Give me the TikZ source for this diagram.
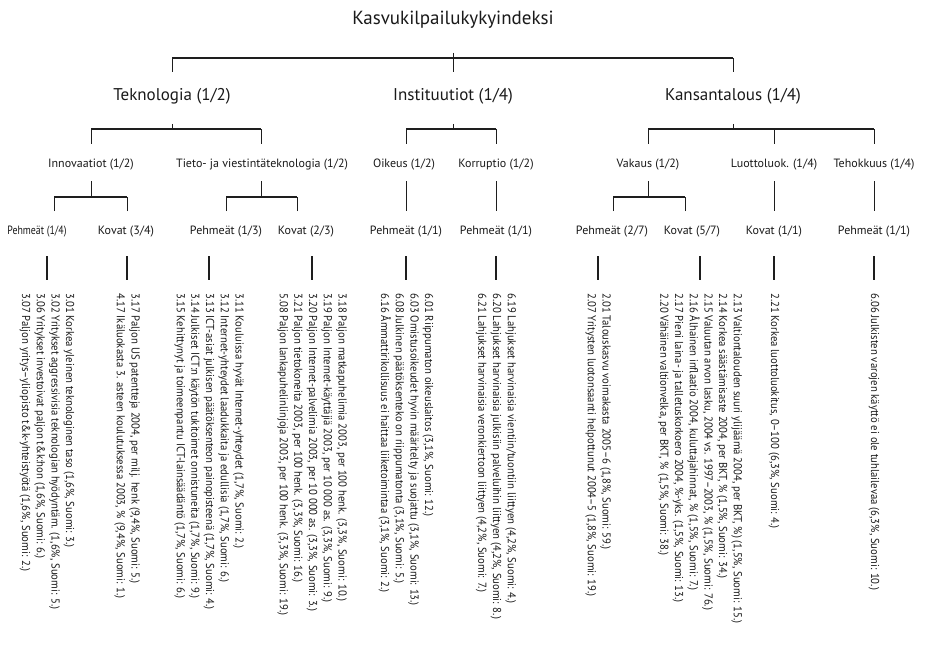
\documentclass[tikz,border=0pt]{standalone}
\usepackage{fontspec}
\setmainfont{PT Sans}
\newfontfamily\leaffont{PT Sans}[FakeStretch=0.93]
\definecolor{linec}{HTML}{1E1E1E}
\definecolor{txtc}{HTML}{1A1A1A}
\begin{document}
\begin{tikzpicture}[x=1pt,y=-1pt,
  conn/.style={draw=linec,line width=1pt},
  barline/.style={draw=linec,line width=1.6pt},
  leafconn/.style={draw=linec,line width=1.8pt},
  ttl/.style={font=\fontsize{19}{23}\selectfont,text=txtc,inner sep=0pt},
  lvla/.style={font=\fontsize{17}{20}\selectfont,text=txtc,inner sep=0pt},
  lvlb/.style={font=\fontsize{12}{14}\selectfont,text=txtc,inner sep=0pt},
  leaf/.style={rotate=-90,anchor=west,align=left,text=txtc,inner sep=0pt,
    font=\leaffont\fontsize{11.5}{14.7}\selectfont}]
\useasboundingbox[fill=white] (0,0) rectangle (925,663);

% ---------- text nodes ----------
\node[ttl] (root) at (453,20) {Kasvukilpailukykyindeksi};
\node[lvla] (tek) at (172,96) {Teknologia (1/2)};
\node[lvla] (ins) at (453,96) {Instituutiot (1/4)};
\node[lvla] (kan) at (733,96) {Kansantalous (1/4)};

\node[lvlb] (inn) at (91,165) {Innovaatiot (1/2)};
\node[lvlb] (tvt) at (262,165) {Tieto- ja viestintäteknologia (1/2)};
\node[lvlb] (oik) at (404,165) {Oikeus (1/2)};
\node[lvlb] (kor) at (496,165) {Korruptio (1/2)};
\node[lvlb] (vak) at (648,165) {Vakaus (1/2)};
\node[lvlb] (luo) at (774,165) {Luottoluok. (1/4)};
\node[lvlb] (teh) at (874,165) {Tehokkuus (1/4)};

\node[lvlb] (p14) at (37,232) {\scalebox{0.82}[1]{Pehmeät (1/4)}};
\node[lvlb] (k34) at (126,232) {Kovat (3/4)};
\node[lvlb] (p13) at (226,232) {Pehmeät (1/3)};
\node[lvlb] (k23) at (306,232) {Kovat (2/3)};
\node[lvlb] (op) at (406,232) {Pehmeät (1/1)};
\node[lvlb] (kp) at (496,232) {Pehmeät (1/1)};
\node[lvlb] (p27) at (612,232) {Pehmeät (2/7)};
\node[lvlb] (k57) at (692,232) {Kovat (5/7)};
\node[lvlb] (k11) at (774,232) {Kovat (1/1)};
\node[lvlb] (tp) at (874,232) {Pehmeät (1/1)};

% ---------- leaf lists ----------
\node[leaf] (lp14) at (47,293) {3.01 Korkea yleinen teknologinen taso (1,6\%, Suomi: 3.)\\
3.02 Yritykset aggressivisia teknologian hyödyntäm. (1,6\%, Suomi: 5.)\\
3.06 Yritykset investoivat paljon t\&k:hon (1,6\%, Suomi: 6.)\\
3.07 Paljon yritys–yliopisto t\&k-yhteistyötä (1,6\%, Suomi: 2.)};
\node[leaf] (lk34) at (127,293) {3.17 Paljon US patentteja 2004, per milj. henk (9,4\%, Suomi: 5.)\\
4.17 Ikäluokasta 3. asteen koulutuksessa 2003, \% (9,4\%, Suomi: 1.)};
\node[leaf] (lp13) at (209,293) {3.11 Kouluissa hyvät Internet-yhteydet (1,7\%, Suomi: 2.)\\
3.12 Internet-yhteydet laadukkaita ja edullisia (1,7\%, Suomi: 6.)\\
3.13 ICT-asiat julkisen päätöksenteon painopisteenä (1,7\%, Suomi: 4.)\\
3.14 Julkiset ICT:n käytön tukitoimet onnistuneita (1,7\%, Suomi: 9.)\\
3.15 Kehittynyt ja toimeenpantu ICT-lainsäädäntö (1,7\%, Suomi: 6.)};
\node[leaf] (lk23) at (312,293) {3.18 Paljon matkapuhelimia 2003, per 100 henk. (3,3\%, Suomi: 10.)\\
3.19 Paljon Internet-käyttäjiä 2003, per 10 000 as. (3,3\%, Suomi: 9.)\\
3.20 Paljon Internet-palvelimia 2003, per 10 000 as. (3,3\%, Suomi: 3.)\\
3.21 Paljon tietokoneita 2003, per 100 henk. (3,3\%, Suomi: 16.)\\
5.08 Paljon lankapuhelinlinjoja 2003, per 100 henk. (3,3\%, Suomi: 19.)};
\node[leaf] (lop) at (406,293) {6.01 Riippumaton oikeuslaitos (3,1\%, Suomi: 12.)\\
6.03 Omistusoikeudet hyvin määritelty ja suojattu (3,1\%, Suomi: 13.)\\
6.08 Julkinen päätöksenteko on riippumatonta (3,1\%, Suomi: 5.)\\
6.16 Åmmattirikollisuus ei haittaa liiketoimintaa (3,1\%, Suomi: 2.)};
\node[leaf] (lkp) at (496,293) {6.19 Lahjukset harvinaisia vientiin/tuontiin liittyen (4,2\%, Suomi: 4.)\\
6.20 Lahjukset harvinaisia julkisiin palveluihin liittyen (4,2\%, Suomi: 8.)\\
6.21 Lahjukset harvinaisia veronkiertoon liittyen (4,2\%, Suomi: 7.)};
\node[leaf] (lp27) at (598,293) {2.01 Talouskasvu voimakasta 2005–6 (1,8\%, Suomi: 59.)\\
2.07 Yritysten luotonsaanti helpottunut 2004–5 (1,8\%, Suomi: 19.)};
\node[leaf] (lk57) at (700,293) {2.13 Valtiontalouden suuri ylijäämä 2004, per BKT, \%) (1,5\%, Suomi: 15.)\\
2.14 Korkea säästämisaste 2004, per BKT, \% (1,5\%, Suomi: 34.)\\
2.15 Valuutan arvon lasku, 2004 vs. 1997–2003, \% (1,5\%, Suomi: 76.)\\
2.16 Ålhainen inflaatio 2004, kuluttajahinnat, \% (1,5\%, Suomi: 7.)\\
2.17 Pieni laina- ja talletuskorkoero 2004, \%-yks. (1,5\%, Suomi: 13.)\\
2.20 Vähäinen valtionvelka, per BKT, \% (1,5\%, Suomi: 38.)};
\node[leaf] (lk11) at (774,293) {2.21 Korkea luottoluokitus, 0–100 (6,3\%, Suomi: 4.)};
\node[leaf] (ltp) at (874,293) {6.06 Julkisten varojen käyttö ei ole tuhlailevaa (6,3\%, Suomi: 10.)};

% ---------- connection points ----------
\coordinate (root-out) at (453,53);
\coordinate (tek-in) at (172,72);  \coordinate (tek-out) at (172,124);
\coordinate (ins-in) at (453,72);  \coordinate (ins-out) at (453,124);
\coordinate (kan-in) at (733,72);  \coordinate (kan-out) at (733,124);
\foreach \n/\x in {inn/91,tvt/261,oik/406,kor/496,vak/648,luo/774,teh/874}{
  \coordinate (\n-in) at (\x,144); \coordinate (\n-out) at (\x,181);}
\foreach \n/\x in {p14/54,k34/127,p13/226,k23/297,op/406,kp/496,p27/613,k57/685,k11/774,tp/874}{
  \coordinate (\n-in) at (\x,211);}
\foreach \n/\x in {p14/47,k34/127,p13/209,k23/312,op/406,kp/496,p27/598,k57/700,k11/774,tp/874}{
  \coordinate (\n-out) at (\x,256);}

% ---------- level 0 -> 1 ----------
\draw[conn] (root-out) -- (ins-in);
\draw[conn] (tek-in) -- ++(0,-14);
\draw[conn] (kan-in) -- ++(0,-14);
\draw[barline] ([yshift=14pt]tek-in) -- ([yshift=14pt]kan-in);

% ---------- level 1 -> 2 ----------
\foreach \p/\a/\b in {tek/inn/tvt,ins/oik/kor,kan/vak/teh}{
  \draw[conn] (\p-out) -- ++(0,5);
  \draw[conn] (\a-in) -- ++(0,-15);
  \draw[conn] (\b-in) -- ++(0,-15);
  \draw[barline] ([yshift=15pt]\a-in) -- ([yshift=15pt]\b-in);}
\draw[conn] (luo-in) -- ++(0,-15);

% ---------- level 2 -> 3 ----------
\foreach \p/\a/\b in {inn/p14/k34,tvt/p13/k23,vak/p27/k57}{
  \draw[conn] (\p-out) -- ++(0,16);
  \draw[conn] (\a-in) -- ++(0,-14);
  \draw[conn] (\b-in) -- ++(0,-14);
  \draw[barline] ([yshift=14pt]\a-in) -- ([yshift=14pt]\b-in);}
\draw[conn] (oik-out) -- (op-in);
\draw[conn] (kor-out) -- (kp-in);
\draw[conn] (luo-out) -- (k11-in);
\draw[conn] (teh-out) -- (tp-in);

% ---------- level 3 -> leaves ----------
\foreach \n in {p14,k34,p13,k23,op,kp,p27,k57,k11,tp}{
  \draw[leafconn] (\n-out) -- ([yshift=13pt]l\n.west);}
\end{tikzpicture}
\end{document}
